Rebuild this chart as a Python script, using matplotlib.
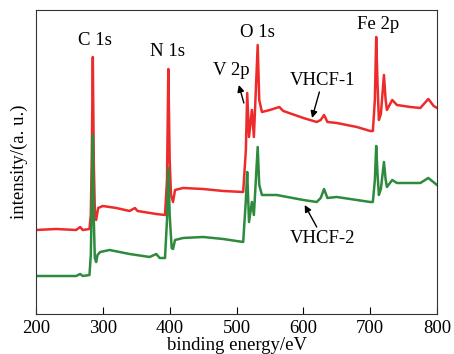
import matplotlib.pyplot as plt

# binding energy (eV) and intensity (a.u.)
vhcf1_energy = [200, 230, 260, 266, 270, 280, 282, 283.5, 285, 286.5, 288, 290, 293, 300,
                320, 340, 348, 352, 380, 393, 396, 398, 400, 402, 405, 408, 420, 450, 480,
                510, 514, 516, 518.7, 523, 526, 531.7, 534, 538, 550, 564, 570, 600, 620,
                626, 631, 636, 650, 680, 700, 704, 707, 709, 711, 713, 716, 720.6, 723, 725,
                733, 740, 760, 775, 787, 795, 800]
vhcf1_intensity = [84, 85, 84, 87, 84, 85, 99, 160, 257, 150, 104, 94, 106, 108,
                   106, 103, 106, 103, 100, 99, 134, 245, 154, 119, 112, 124, 126, 125, 123,
                   122, 164, 221, 177, 204, 177, 269, 214, 202, 204, 207, 203, 196, 192,
                   194, 199, 192, 191, 187, 183, 183, 214, 277, 230, 194, 200, 239, 215, 204,
                   214, 209, 207, 206, 215, 208, 206]

vhcf2_energy = [200, 260, 266, 270, 280, 282, 283.5, 285, 286.5, 288, 290, 292, 296, 310,
                340, 370, 380, 385, 393, 396, 398, 400, 403, 405, 408, 420, 450, 480, 510,
                514, 516, 518.7, 523, 526, 531.7, 534, 538, 560, 600, 620, 626, 631, 636,
                650, 680, 700, 704, 707, 709, 711, 713, 716, 720.6, 723, 725, 733, 740, 775,
                787, 800]
vhcf2_intensity = [38, 38, 40, 38, 39, 59, 114, 179, 94, 56, 52, 59, 62, 64,
                   60, 57, 60, 56, 56, 94, 146, 99, 66, 65, 74, 76, 77, 75, 72,
                   114, 142, 92, 112, 99, 167, 129, 119, 119, 114, 112, 116, 125, 116,
                   117, 114, 112, 112, 134, 168, 140, 119, 125, 152, 135, 127, 134, 131, 131,
                   136, 129]

peak_labels = ["C 1s", "N 1s", "V 2p", "O 1s", "Fe 2p"]
peak_label_x = [288, 397, 492, 531, 712]
peak_label_y = [273, 262, 243, 281, 289]

series_labels = ["VHCF-1", "VHCF-2"]
series_label_x = [628, 628]
series_label_y = [233, 75]

plt.rcParams['font.family'] = ['Liberation Serif', 'DejaVu Serif']

fig = plt.figure(figsize=(4.54, 3.54), dpi=100)
ax = fig.add_axes([0.0793, 0.113, 0.8833, 0.8588])

ax.plot(vhcf1_energy, vhcf1_intensity, color='#ee2b2b', lw=1.8)
ax.plot(vhcf2_energy, vhcf2_intensity, color='#2e8a3c', lw=1.8)

for label, x, y in zip(peak_labels, peak_label_x, peak_label_y):
    ax.text(x, y, label, fontsize=13.5, ha='center', va='center')
for label, x, y in zip(series_labels, series_label_x, series_label_y):
    ax.text(x, y, label, fontsize=13.5, ha='center', va='center')

# arrows: (head, tail)
arrow_style = dict(arrowstyle='-|>', color='black', lw=1.0, mutation_scale=10,
                   shrinkA=0, shrinkB=0)
ax.annotate("", xy=(503.5, 229), xytext=(511, 211), arrowprops=arrow_style)
ax.annotate("", xy=(613, 196), xytext=(624, 222), arrowprops=arrow_style)
ax.annotate("", xy=(602, 109), xytext=(620, 87), arrowprops=arrow_style)

ax.set_xlim(200, 800)
ax.set_ylim(0, 304)
ax.set_xticks([200, 300, 400, 500, 600, 700, 800])
ax.set_yticks([])
ax.tick_params(axis='x', direction='in', length=5, labelsize=13.5, pad=4)
for spine in ax.spines.values():
    spine.set_color('#333333')
ax.set_xlabel("binding energy/eV", fontsize=13.5, labelpad=0)
ax.set_ylabel("intensity/(a. u.)", fontsize=13.5, labelpad=6)

fig.savefig('out.png', dpi=100)
